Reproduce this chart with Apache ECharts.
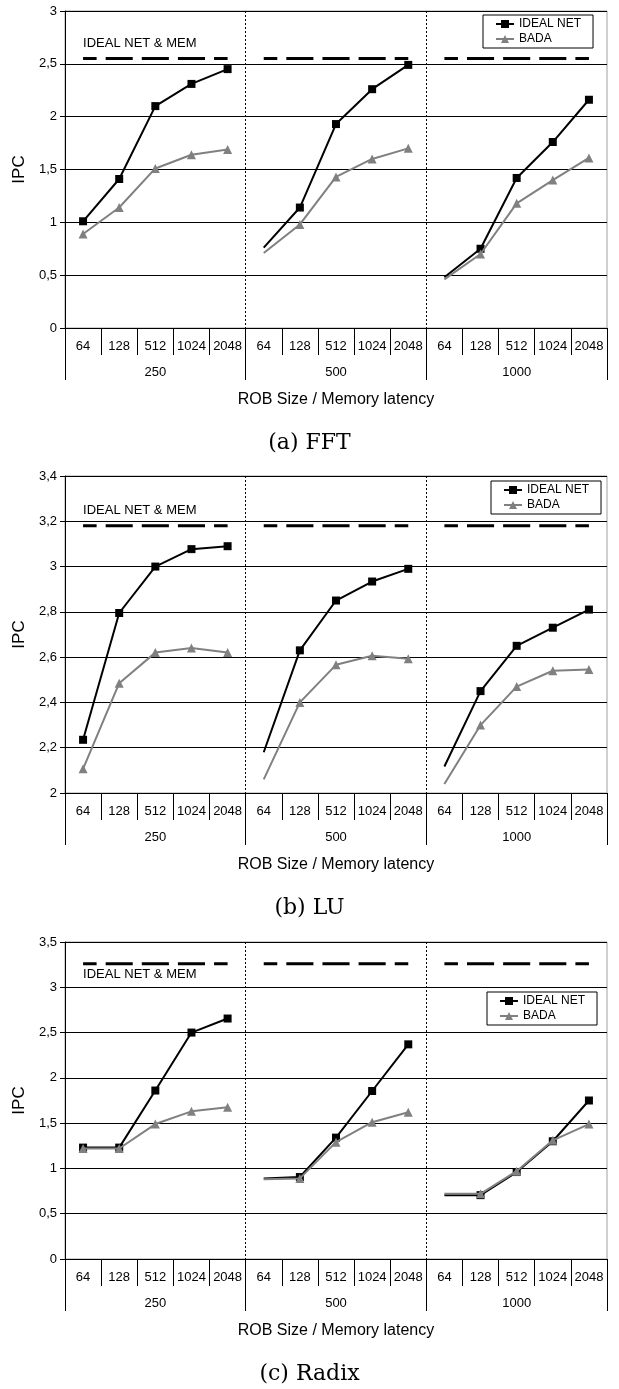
<!DOCTYPE html>
<html><head><meta charset="utf-8">
<script src="https://cdn.jsdelivr.net/npm/echarts@6/dist/echarts.min.js"></script>
<style>html,body{margin:0;padding:0;background:#fff}#c{width:619px;height:1389px}</style>
</head><body><div id="c"></div>
<script>
// ---- data ----
const robSizes = ['64', '128', '512', '1024', '2048'];
const latencies = ['250', '500', '1000'];
const categories = latencies.flatMap(() => robSizes);
const seriesNames = ['IDEAL NET', 'BADA'];
const memLabel = 'IDEAL NET & MEM';

const fftIdeal = [1.01, 1.41, 2.10, 2.31, 2.45, 0.76, 1.14, 1.93, 2.26, 2.49, 0.48, 0.75, 1.42, 1.76, 2.16];
const fftBada  = [0.89, 1.14, 1.51, 1.64, 1.69, 0.71, 0.98, 1.43, 1.60, 1.70, 0.46, 0.70, 1.18, 1.40, 1.61];
const fftMem   = [2.55, 2.55, 2.55, 2.55, 2.55, 2.55, 2.55, 2.55, 2.55, 2.55, 2.55, 2.55, 2.55, 2.55, 2.55];

const luIdeal = [2.235, 2.795, 3.00, 3.077, 3.09, 2.18, 2.63, 2.85, 2.934, 2.99, 2.117, 2.45, 2.65, 2.73, 2.81];
const luBada  = [2.107, 2.485, 2.62, 2.64, 2.62, 2.06, 2.40, 2.566, 2.606, 2.593, 2.04, 2.30, 2.47, 2.54, 2.545];
const luMem   = [3.18, 3.18, 3.18, 3.18, 3.18, 3.18, 3.18, 3.18, 3.18, 3.18, 3.18, 3.18, 3.18, 3.18, 3.18];

const radixIdeal = [1.23, 1.23, 1.86, 2.50, 2.655, 0.89, 0.905, 1.34, 1.855, 2.37, 0.705, 0.705, 0.96, 1.30, 1.75];
const radixBada  = [1.22, 1.22, 1.49, 1.63, 1.675, 0.88, 0.89, 1.29, 1.51, 1.62, 0.72, 0.72, 0.97, 1.31, 1.49];
const radixMem   = [3.26, 3.26, 3.26, 3.26, 3.26, 3.26, 3.26, 3.26, 3.26, 3.26, 3.26, 3.26, 3.26, 3.26, 3.26];

const fftTicks = {min: 0, max: 3, interval: 0.5};
const luTicks = {min: 2, max: 3.4, interval: 0.2};
const radixTicks = {min: 0, max: 3.5, interval: 0.5};

// ---- layout ----
const FONT = '"Liberation Sans", Arial, sans-serif';
const panels = [
  {caption: '(a) FFT', ideal: fftIdeal, bada: fftBada, mem: fftMem, ticks: fftTicks,
   top: 11, legendLeft: 483, legendTop: 15, memPos: 'top', memDist: 9, captionTop: 432},
  {caption: '(b) LU', ideal: luIdeal, bada: luBada, mem: luMem, ticks: luTicks,
   top: 476, legendLeft: 491, legendTop: 481, memPos: 'top', memDist: 9, captionTop: 897},
  {caption: '(c) Radix', ideal: radixIdeal, bada: radixBada, mem: radixMem, ticks: radixTicks,
   top: 942, legendLeft: 487, legendTop: 992, memPos: 'bottom', memDist: 4, captionTop: 1363}
];
const GRID_LEFT = 65, GRID_W = 542, GRID_H = 317;
const catW = GRID_W / categories.length;

function groupData(arr, g, hideFirst) {
  return arr.map((v, idx) => {
    if (Math.floor(idx / 5) !== g) return '-';
    if (hideFirst && idx % 5 === 0 && g > 0) return {value: v, symbol: 'none'};
    return v;
  });
}

const grid = [], xAxis = [], yAxis = [], series = [], legend = [], title = [];
panels.forEach((p, i) => {
  grid.push({left: GRID_LEFT, width: GRID_W, top: p.top, height: GRID_H, show: true,
    borderColor: '#a0a0a0', borderWidth: 1, backgroundColor: 'transparent'});
  xAxis.push({gridIndex: i, type: 'category', data: categories, position: 'bottom', boundaryGap: true,
    axisLine: {show: true, lineStyle: {color: '#000', width: 1}},
    axisTick: {show: true, interval: 0, length: 27, lineStyle: {color: '#000'}},
    axisLabel: {interval: 0, margin: 12, fontSize: 13, color: '#000', fontFamily: FONT},
    splitLine: {show: false}});
  xAxis.push({gridIndex: i, type: 'category', data: latencies, position: 'bottom', boundaryGap: true,
    axisLine: {show: false},
    axisTick: {show: true, interval: 0, length: 52, lineStyle: {color: '#000'}},
    axisLabel: {interval: 0, margin: 38, fontSize: 13, color: '#000', fontFamily: FONT},
    splitLine: {show: false},
    name: 'ROB Size / Memory latency', nameLocation: 'middle', nameGap: 64,
    nameTextStyle: {fontSize: 16, color: '#000', fontFamily: FONT}});
  xAxis.push({gridIndex: i, type: 'value', min: 0, max: 15, interval: 5, position: 'bottom',
    axisLine: {show: false}, axisTick: {show: false}, axisLabel: {show: false},
    splitLine: {show: true, showMinLine: false, showMaxLine: false,
      lineStyle: {color: '#000', width: 1, type: [2, 2]}}});
  yAxis.push({gridIndex: i, type: 'value', min: p.ticks.min, max: p.ticks.max, interval: p.ticks.interval,
    axisLine: {show: true, lineStyle: {color: '#000', width: 1}},
    axisTick: {show: true, length: 5, lineStyle: {color: '#000'}},
    axisLabel: {formatter: v => String(+v.toFixed(2)).replace('.', ','), fontSize: 13, margin: 8,
      color: '#000', fontFamily: FONT},
    splitLine: {show: true, lineStyle: {color: '#000', width: 1}},
    name: 'IPC', nameLocation: 'middle', nameGap: 31,
    nameTextStyle: {fontSize: 17, color: '#000', fontFamily: FONT}});
  for (let g = 0; g < 3; g++) {
    const memData = groupData(p.mem, g, false);
    if (g === 0) {
      memData[0] = {value: p.mem[0], label: {show: true, formatter: memLabel, position: p.memPos,
        distance: p.memDist, align: 'left', fontSize: 13, color: '#000', fontFamily: FONT}};
    }
    series.push({type: 'line', name: memLabel, xAxisIndex: 3 * i, yAxisIndex: i, data: memData,
      symbol: 'circle', symbolSize: 0, silent: true, z: 2,
      itemStyle: {color: '#000'},
      lineStyle: {color: '#000', width: 3, type: [catW * 0.75, catW * 0.25], dashOffset: catW * 0.375},
      emphasis: {disabled: true}});
    series.push({type: 'line', name: seriesNames[0], xAxisIndex: 3 * i, yAxisIndex: i,
      data: groupData(p.ideal, g, true), symbol: 'rect', symbolSize: 8, z: 3,
      itemStyle: {color: '#000'}, lineStyle: {color: '#000', width: 2}, emphasis: {disabled: true}});
  }
  for (let g = 0; g < 3; g++) {
    series.push({type: 'line', name: seriesNames[1], xAxisIndex: 3 * i, yAxisIndex: i,
      data: groupData(p.bada, g, true), symbol: 'triangle', symbolSize: 9, z: 4,
      itemStyle: {color: '#808080'}, lineStyle: {color: '#808080', width: 2}, emphasis: {disabled: true}});
  }
  legend.push({data: seriesNames, orient: 'vertical', left: p.legendLeft, top: p.legendTop,
    padding: [3, 12, 3, 12], itemGap: 3, itemWidth: 18, itemHeight: 10,
    borderColor: '#000', borderWidth: 1, borderRadius: 0, backgroundColor: '#fff',
    selectedMode: false, textStyle: {fontSize: 12, color: '#000', fontFamily: FONT}});
  title.push({text: p.caption, left: 'center', top: p.captionTop, padding: 0,
    textStyle: {fontFamily: '"DejaVu Serif", serif', fontSize: 22, fontWeight: 'normal', color: '#000'}});
});

const chart = echarts.init(document.getElementById('c'));
chart.setOption({animation: false, backgroundColor: '#fff', title, legend, grid, xAxis, yAxis, series});
</script></body></html>
